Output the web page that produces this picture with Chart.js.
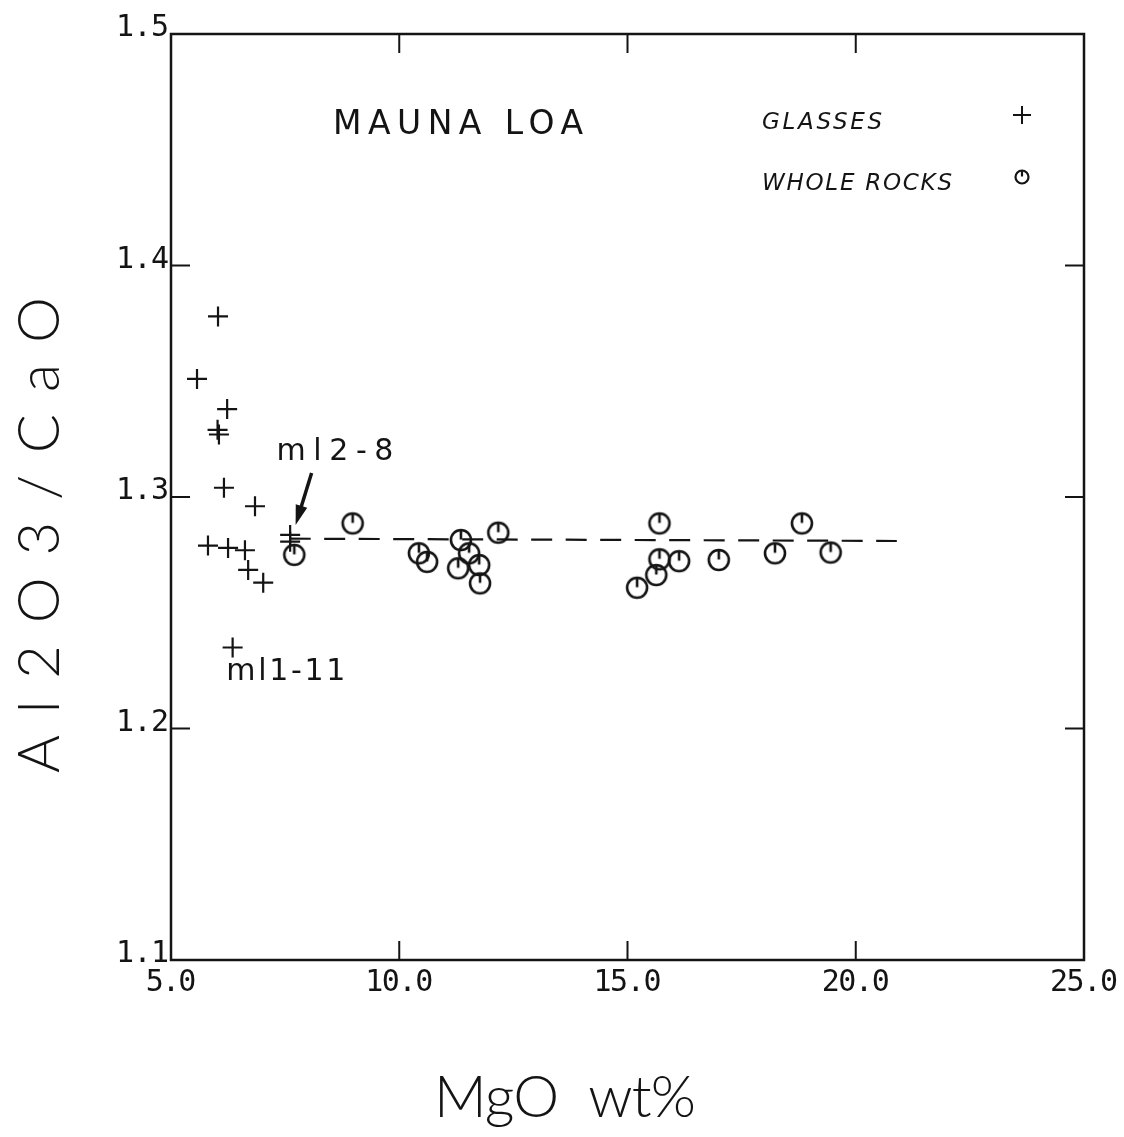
<!DOCTYPE html>
<html>
<head>
<meta charset="utf-8">
<script src="https://cdn.jsdelivr.net/npm/chart.js@4.4.0/dist/chart.umd.min.js"></script>
<style>
  html, body { margin: 0; padding: 0; background: #fff; }
  #wrap { width: 1124px; height: 1137px; }
</style>
</head>
<body>
<div id="wrap"><canvas id="plot" width="1124" height="1137"></canvas></div>
<script>
// Mauna Loa: Al2O3/CaO against MgO
var glassMgO   = [6.03, 5.57, 6.23, 6.02, 6.05, 6.16, 6.84, 5.81, 6.25, 6.62, 6.69, 7.02, 6.35, 7.61, 7.61];
var glassRatio = [1.378, 1.351, 1.338, 1.329, 1.327, 1.304, 1.296, 1.279, 1.278, 1.277, 1.2685, 1.263, 1.235, 1.2836, 1.2807];

var rockMgO   = [7.70, 8.98, 10.43, 10.61, 11.35, 11.53, 11.29, 11.75, 11.77, 12.17, 15.70, 15.70, 16.13, 15.63, 15.21, 17.00, 18.23, 18.82, 19.45];
var rockRatio = [1.275, 1.2886, 1.2757, 1.272, 1.2814, 1.2757, 1.2692, 1.2706, 1.2627, 1.2846, 1.2886, 1.2731, 1.2723, 1.2663, 1.2608, 1.2728, 1.2757, 1.2886, 1.276];

var trendMgO   = [7.6, 20.9];
var trendRatio = [1.282, 1.281];

var xTicks = [5, 10, 15, 20, 25];
var xTickLabels = ['5.0', '10.0', '15.0', '20.0', '25.0'];
var yTicks = [1.1, 1.2, 1.3, 1.4, 1.5];
var yTickLabels = ['1.1', '1.2', '1.3', '1.4', '1.5'];

var INK = '#141414';

function pairs(xs, ys) {
  return xs.map(function (x, i) { return { x: x, y: ys[i] }; });
}

// circle with a short stroke down from the top, like the plotter symbol
function rockSymbol(size, r, lw) {
  var c = document.createElement('canvas');
  c.width = size; c.height = size;
  var g = c.getContext('2d');
  var m = size / 2;
  g.strokeStyle = INK;
  g.lineWidth = lw;
  g.beginPath();
  g.arc(m, m, r, 0, Math.PI * 2);
  g.stroke();
  g.beginPath();
  g.moveTo(m, m - r);
  g.lineTo(m, m - 0.5);
  g.stroke();
  return c;
}
var rockIcon = rockSymbol(26, 10, 2.6);
var rockIconSmall = rockSymbol(18, 6.5, 2.2);

// text stretched or squeezed to a given width
function spaced(ctx, text, x, y, width, align) {
  ctx.letterSpacing = '0px';
  var w = ctx.measureText(text).width;
  var n = text.length;
  var sp = n > 1 ? (width - w) / (n - 1) : 0;
  ctx.letterSpacing = sp + 'px';
  var total = w + sp * (n - 1);
  var start = x;
  if (align === 'center') start = x - total / 2;
  if (align === 'right') start = x - total;
  ctx.textAlign = 'left';
  ctx.fillText(text, start, y);
  ctx.letterSpacing = '0px';
}

var frame = {
  id: 'frame',
  afterDraw: function (chart) {
    var ctx = chart.ctx;
    var a = chart.chartArea;
    var xs = chart.scales.x, ys = chart.scales.y;
    ctx.save();
    ctx.strokeStyle = INK;
    ctx.fillStyle = INK;
    ctx.lineWidth = 2.5;
    ctx.strokeRect(a.left, a.top, a.right - a.left, a.bottom - a.top);

    // inward ticks on all four sides
    ctx.lineWidth = 2;
    ctx.beginPath();
    xTicks.slice(1, -1).forEach(function (v) {
      var px = xs.getPixelForValue(v);
      ctx.moveTo(px, a.bottom); ctx.lineTo(px, a.bottom - 19);
      ctx.moveTo(px, a.top); ctx.lineTo(px, a.top + 19);
    });
    yTicks.slice(1, -1).forEach(function (v) {
      var py = ys.getPixelForValue(v);
      ctx.moveTo(a.left, py); ctx.lineTo(a.left + 19, py);
      ctx.moveTo(a.right, py); ctx.lineTo(a.right - 19, py);
    });
    ctx.stroke();

    // tick labels
    ctx.font = '30px "DejaVu Sans Mono", monospace';
    ctx.textBaseline = 'alphabetic';
    xTicks.forEach(function (v, i) {
      var t = xTickLabels[i];
      spaced(ctx, t, xs.getPixelForValue(v), a.bottom + 31, 17.8 * t.length - 3, 'center');
    });
    yTicks.forEach(function (v, i) {
      var t = yTickLabels[i];
      spaced(ctx, t, a.left - 2, ys.getPixelForValue(v) + 2, 53, 'right');
    });

    // axis titles
    ctx.font = '300 58px Lato, "DejaVu Sans", sans-serif';
    ctx.textBaseline = 'middle';
    spaced(ctx, 'MgO  wt%', 565, 1098, 262, 'center');
    ctx.save();
    ctx.translate(40, 535);
    ctx.rotate(-Math.PI / 2);
    spaced(ctx, 'Al2O3/CaO', 0, 0, 476, 'center');
    ctx.restore();

    // plot title
    ctx.font = '33px "DejaVu Sans", sans-serif';
    spaced(ctx, 'MAUNA LOA', 458, 125, 250, 'center');

    // key
    ctx.font = 'italic 23px "DejaVu Sans", sans-serif';
    ctx.textBaseline = 'alphabetic';
    spaced(ctx, 'GLASSES', 762, 129, 120, 'left');
    spaced(ctx, 'WHOLE ROCKS', 762, 190, 190, 'left');
    ctx.lineWidth = 2;
    ctx.beginPath();
    ctx.moveTo(1013, 115); ctx.lineTo(1031, 115);
    ctx.moveTo(1022, 106); ctx.lineTo(1022, 124);
    ctx.stroke();
    ctx.drawImage(rockIconSmall, 1022 - 9, 177 - 9);

    // sample labels and arrow, placed in data units
    ctx.font = '30px "DejaVu Sans", sans-serif';
    ctx.textBaseline = 'middle';
    spaced(ctx, 'ml2-8', xs.getPixelForValue(7.31), ys.getPixelForValue(1.3194), 117, 'left');
    spaced(ctx, 'ml1-11', xs.getPixelForValue(6.21), ys.getPixelForValue(1.2244), 119, 'left');

    var tx = xs.getPixelForValue(8.08), ty = ys.getPixelForValue(1.3104);
    var hx = xs.getPixelForValue(7.73), hy = ys.getPixelForValue(1.2879);
    var ang = Math.atan2(hy - ty, hx - tx);
    ctx.lineWidth = 3.5;
    ctx.beginPath();
    ctx.moveTo(tx, ty);
    ctx.lineTo(hx - 16 * Math.cos(ang), hy - 16 * Math.sin(ang));
    ctx.stroke();
    ctx.beginPath();
    ctx.moveTo(hx, hy);
    ctx.lineTo(hx - 20 * Math.cos(ang) + 6 * Math.sin(ang), hy - 20 * Math.sin(ang) - 6 * Math.cos(ang));
    ctx.lineTo(hx - 20 * Math.cos(ang) - 6 * Math.sin(ang), hy - 20 * Math.sin(ang) + 6 * Math.cos(ang));
    ctx.closePath();
    ctx.fill();
    ctx.restore();
  }
};

new Chart(document.getElementById('plot').getContext('2d'), {
  type: 'scatter',
  data: {
    datasets: [{
      label: 'GLASSES',
      data: pairs(glassMgO, glassRatio),
      pointStyle: 'cross',
      pointRadius: 10,
      borderColor: INK,
      borderWidth: 2.2
    }, {
      label: 'WHOLE ROCKS',
      data: pairs(rockMgO, rockRatio),
      pointStyle: rockIcon,
      pointRadius: 10
    }, {
      label: 'trend',
      data: pairs(trendMgO, trendRatio),
      showLine: true,
      borderColor: INK,
      borderWidth: 2.2,
      borderDash: [21, 13.5],
      pointRadius: 0
    }]
  },
  options: {
    responsive: false,
    animation: false,
    layout: { padding: { left: 171, right: 40, top: 34, bottom: 177 } },
    plugins: {
      legend: { display: false },
      tooltip: { enabled: false }
    },
    scales: {
      x: { type: 'linear', min: 5, max: 25, display: false },
      y: { type: 'linear', min: 1.1, max: 1.5, display: false }
    }
  },
  plugins: [frame]
});
</script>
</body>
</html>
